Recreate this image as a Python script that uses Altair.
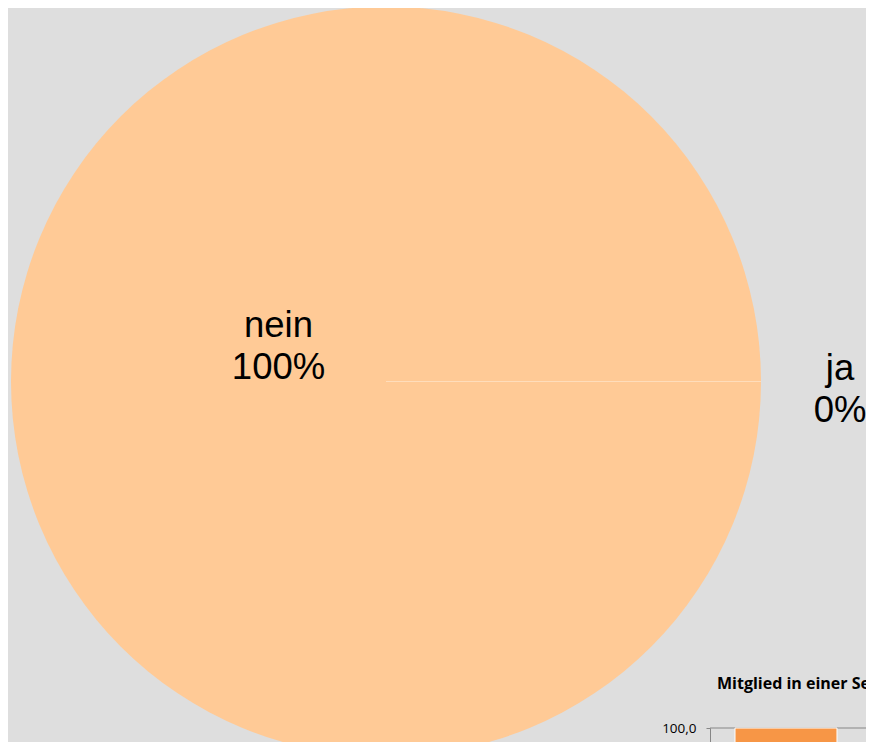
import math
import altair as alt
import pandas as pd

# Pie data
kategorien = ["nein", "ja"]
anteile = [100, 0]
beschriftungen = ["nein\n100%", "ja\n0%"]

# Partially visible bar chart (bottom right)
balken_kategorien = ["nein", "ja"]
balken_werte = [100.0, 0.0]
achsen_werte = [100]  # only the tick that is visible in the window
balken_titel = "Mitglied in einer Selbsthilfegruppe"

pie_df = pd.DataFrame({"kategorie": kategorien, "anteil": anteile, "label": beschriftungen})
bar_df = pd.DataFrame({"kategorie": balken_kategorien, "wert": balken_werte})
grid_df = pd.DataFrame({"wert": achsen_werte})

theta_scale = alt.Scale(range=[math.pi / 2, math.pi / 2 + 2 * math.pi])
color_scale = alt.Scale(domain=kategorien, range=["#FFCA96", "#F79646"])

base = alt.Chart(pie_df)

arc = base.mark_arc(outerRadius=375, stroke="#FFDDBB").encode(
    theta=alt.Theta("anteil:Q", stack=True, scale=theta_scale),
    color=alt.Color("kategorie:N", scale=color_scale, legend=None),
    strokeWidth=alt.condition("datum.kategorie === 'ja'", alt.value(1), alt.value(0)),
    order=alt.Order("sortkey:Q"),
).transform_calculate(sortkey="datum.kategorie === 'nein' ? 0 : 1")

text_common = dict(font="Liberation Sans", fontSize=36.5, lineBreak="\n", lineHeight=42,
                   align="center", baseline="alphabetic", color="black")

text_nein = base.mark_text(radius=107.5, dy=-45, **text_common).encode(
    theta=alt.Theta("anteil:Q", stack=True, scale=theta_scale),
    text="label:N",
).transform_filter("datum.kategorie === 'nein'")

text_ja = base.mark_text(radius=454, dy=-1.5, **text_common).encode(
    theta=alt.Theta("anteil:Q", stack=True, scale=theta_scale),
    text="label:N",
).transform_filter("datum.kategorie === 'ja'")

y_scale = alt.Scale(domain=[0, 100], range=[1017, 707])

bars = alt.Chart(bar_df).mark_bar(color="#F79646", stroke="white", strokeWidth=1).encode(
    x=alt.X("kategorie:N", sort=balken_kategorien, axis=None,
            scale=alt.Scale(range=[702, 1006], paddingInner=0.329, paddingOuter=0.1645)),
    y=alt.Y("wert:Q", scale=y_scale,
            axis=alt.Axis(values=achsen_werte, offset=-702, title=None, grid=False,
                          labelExpr="replace(format(datum.value, '.1f'), '.', ',')",
                          labelFont="Open Sans", labelFontSize=13.5, labelColor="black",
                          labelPadding=10, tickSize=4, tickColor="#868686",
                          domainColor="#868686")),
)

grid = alt.Chart(grid_df).mark_rule(color="#868686", strokeWidth=1).encode(
    y=alt.Y("wert:Q", scale=y_scale),
    x=alt.value(702),
    x2=alt.value(900),
)

titel = alt.Chart(pd.DataFrame({"t": [balken_titel]})).mark_text(
    font="Open Sans", fontSize=16, fontWeight="bold", align="left", baseline="alphabetic",
    color="black"
).encode(text="t:N", x=alt.value(709), y=alt.value(668))

chart = alt.layer(grid, bars, arc, text_nein, text_ja, titel).properties(
    width=756, height=721,
    autosize=alt.AutoSizeParams(type="none"),
    padding={"left": 0, "top": 13, "right": 102, "bottom": 0},
    background="#DEDEDE",
).configure_view(stroke=None)

chart.save("out.html", embed_options={"renderer": "svg", "actions": False})
